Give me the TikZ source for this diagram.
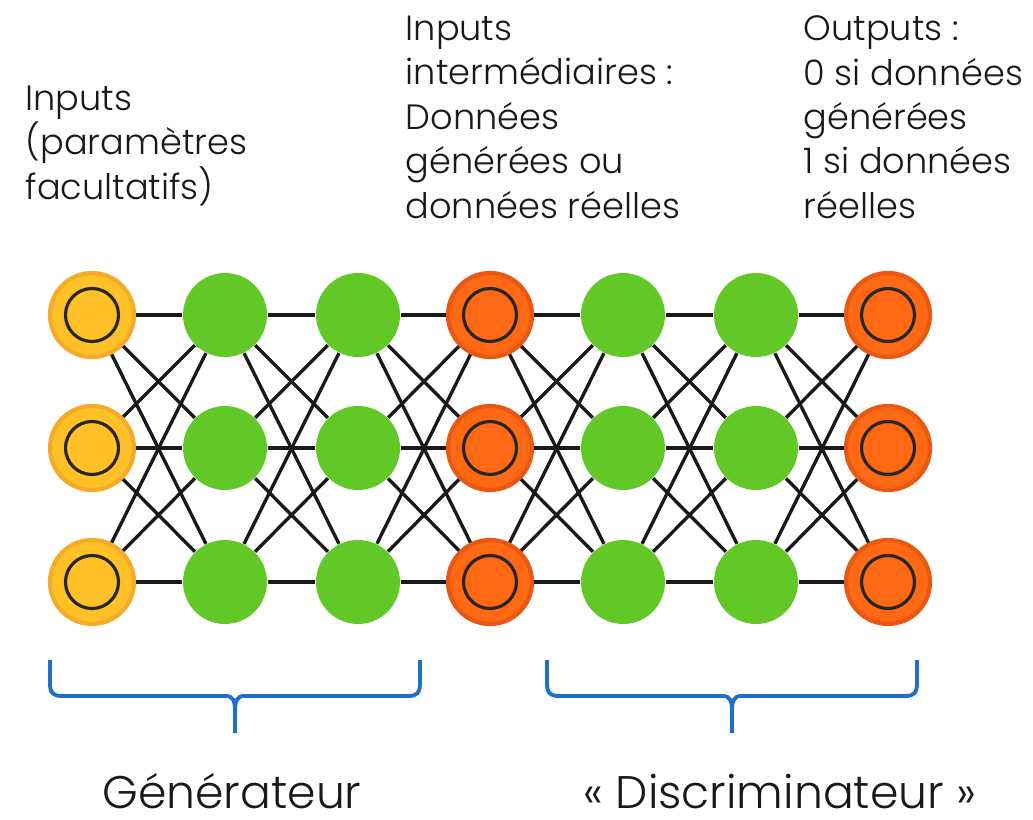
\documentclass[tikz,border=0pt]{standalone}
\usepackage{fontspec}
\setmainfont{Poppins}[UprightFont=* Light]
\usepackage{tikz}
\definecolor{inyellow}{RGB}{255,192,40}
\definecolor{inyellowrim}{RGB}{245,170,40}
\definecolor{hidgreen}{RGB}{98,200,40}
\definecolor{outorange}{RGB}{255,105,20}
\definecolor{outorangerim}{RGB}{232,88,18}
\definecolor{braceblue}{RGB}{31,112,200}
\definecolor{textgray}{RGB}{25,25,25}

\tikzset{
    neuron/.style={circle, minimum size=0.84cm, inner sep=0pt},
    ringneuron/.style={neuron, line width=1.2pt,
        path picture={\draw[line width=0.9pt, black!85] (path picture bounding box.center) circle (0.265cm);}},
    inneuron/.style={ringneuron, fill=inyellow, draw=inyellowrim},
    hidneuron/.style={neuron, fill=hidgreen},
    outneuron/.style={ringneuron, fill=outorange, draw=outorangerim},
    synapse/.style={line width=0.95pt, black!90},
    label/.style={anchor=north west, inner sep=0pt, align=left, textgray,
        font=\fontsize{10}{12.65}\selectfont},
    partname/.style={anchor=base, inner sep=0pt, textgray, font=\fontsize{13}{15}\selectfont}
}

% curly brace under a group of layers
\newcommand{\layerbrace}[3]{%
    \draw[braceblue, line width=1.1pt]
        (#1,1.59) -- (#1,1.36) .. controls (#1,1.26) and (#1+0.03,1.23) .. (#1+0.12,1.23)
        -- (#3-0.09,1.23) .. controls (#3-0.02,1.23) and (#3,1.18) .. (#3,1.08) -- (#3,0.86);
    \draw[braceblue, line width=1.1pt]
        (#2,1.59) -- (#2,1.36) .. controls (#2,1.26) and (#2-0.03,1.23) .. (#2-0.12,1.23)
        -- (#3+0.09,1.23) .. controls (#3+0.02,1.23) and (#3,1.18) .. (#3,1.08);
}

\begin{document}
\begin{tikzpicture}
    \useasboundingbox (0,0) rectangle (10.33,8.19);

    % Generator input layer
    \node[inneuron] (n-1-1) at (0.92,5.04) {};
    \node[inneuron] (n-1-2) at (0.92,3.71) {};
    \node[inneuron] (n-1-3) at (0.92,2.37) {};

    % Generator hidden layers
    \foreach \c/\x in {2/2.25, 3/3.58} {
        \node[hidneuron] (n-\c-1) at (\x,5.04) {};
        \node[hidneuron] (n-\c-2) at (\x,3.71) {};
        \node[hidneuron] (n-\c-3) at (\x,2.37) {};
    }

    % Intermediate inputs (generated or real data)
    \node[outneuron] (n-4-1) at (4.90,5.04) {};
    \node[outneuron] (n-4-2) at (4.90,3.71) {};
    \node[outneuron] (n-4-3) at (4.90,2.37) {};

    % Discriminator hidden layers
    \foreach \c/\x in {5/6.23, 6/7.56} {
        \node[hidneuron] (n-\c-1) at (\x,5.04) {};
        \node[hidneuron] (n-\c-2) at (\x,3.71) {};
        \node[hidneuron] (n-\c-3) at (\x,2.37) {};
    }

    % Output layer
    \node[outneuron] (n-7-1) at (8.88,5.04) {};
    \node[outneuron] (n-7-2) at (8.88,3.71) {};
    \node[outneuron] (n-7-3) at (8.88,2.37) {};

    % Fully connected layers
    \foreach \c [evaluate=\c as \d using int(\c+1)] in {1,...,6} {
        \foreach \a in {1,2,3} {
            \foreach \b in {1,2,3} {
                \draw[synapse] (n-\c-\a) -- (n-\d-\b);
            }
        }
    }

    % Layer descriptions
    \node[label] (txt-in) at (0.25,7.34) {Inputs\\(paramètres\\facultatifs)};
    \node[label] (txt-mid) at (4.05,8.04) {Inputs\\intermédiaires :\\Données\\générées ou\\données réelles};
    \node[label] (txt-out) at (8.03,8.04) {Outputs :\\0 si données\\générées\\1 si données\\réelles};

    % Braces and network parts
    \layerbrace{0.50}{4.20}{2.35}
    \layerbrace{5.47}{9.17}{7.32}
    \node[partname] (gen) at (2.32,0.11) {Générateur};
    \node[partname] (disc) at (7.80,0.11) {« Discriminateur »};

\end{tikzpicture}
\end{document}
